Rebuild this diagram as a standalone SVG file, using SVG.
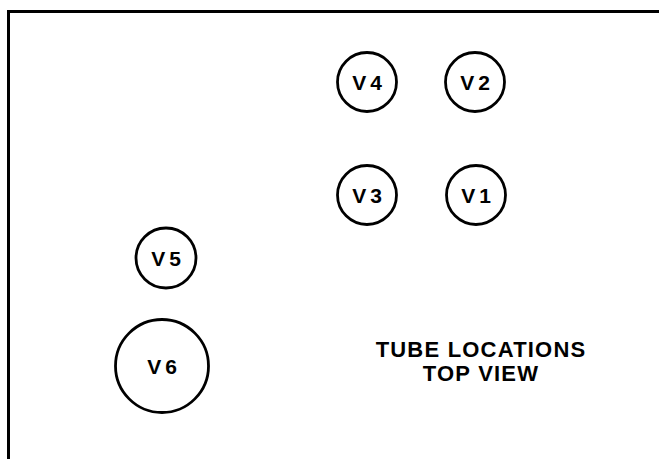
<svg xmlns="http://www.w3.org/2000/svg" width="659" height="459" viewBox="0 0 659 459">
<style>
.tube{fill:none;stroke:#000;stroke-width:2.8}
.lbl{font-family:"Liberation Sans",Arial,sans-serif;font-weight:bold;font-size:21px;fill:#000;text-anchor:middle;letter-spacing:4px}
.title{font-family:"Liberation Sans",Arial,sans-serif;font-weight:bold;font-size:22px;fill:#000;text-anchor:middle;letter-spacing:1.2px}
</style>
<rect width="659" height="459" fill="#fff"/>
<path d="M8.5 459 V11.5 H659" fill="none" stroke="#000" stroke-width="3"/>
<g id="V4"><circle class="tube" cx="367" cy="82" r="29.5"/><text class="lbl" x="369" y="89.5">V4</text></g>
<g id="V2"><circle class="tube" cx="475" cy="82" r="29.5"/><text class="lbl" x="477" y="89.5">V2</text></g>
<g id="V3"><circle class="tube" cx="367" cy="195" r="29.5"/><text class="lbl" x="369" y="202.5">V3</text></g>
<g id="V1"><circle class="tube" cx="476" cy="195" r="29.5"/><text class="lbl" x="478" y="202.5">V1</text></g>
<g id="V5"><circle class="tube" cx="166" cy="258" r="30"/><text class="lbl" x="168" y="265.5">V5</text></g>
<g id="V6"><circle class="tube" cx="162" cy="366" r="46.5"/><text class="lbl" x="164" y="373.5">V6</text></g>
<g id="connectors"/>
<g id="caption">
<text class="title" x="481" y="357">TUBE LOCATIONS</text>
<text class="title" x="481" y="381">TOP VIEW</text>
</g>
</svg>
